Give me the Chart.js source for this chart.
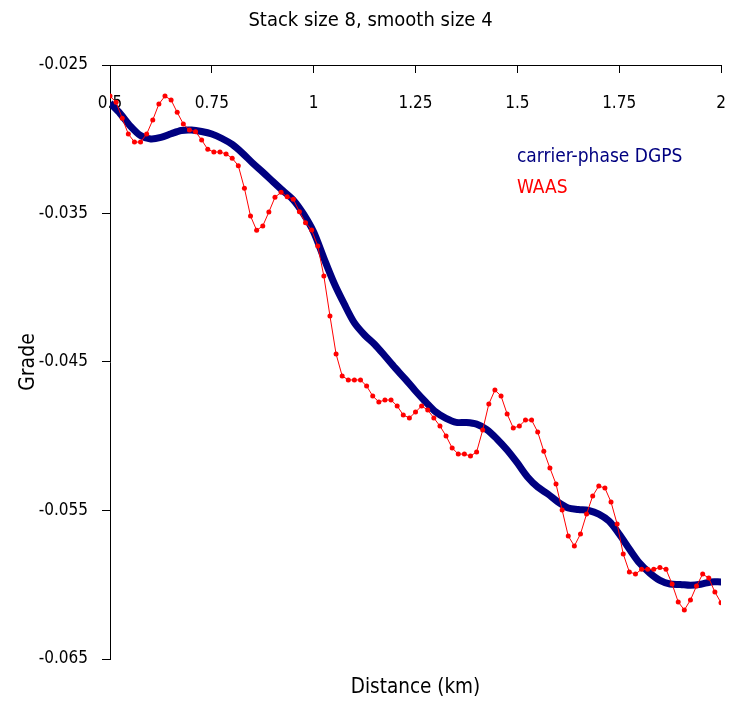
<!DOCTYPE html>
<html>
<head>
<meta charset="utf-8">
<script src="https://cdn.jsdelivr.net/npm/chart.js@4"></script>
<style>body{margin:0;background:#fff}</style>
</head>
<body>
<canvas id="myChart" width="730" height="706"></canvas>
<script>
const xTicks = [0.5, 0.75, 1, 1.25, 1.5, 1.75, 2];
const yTicks = [-0.065, -0.055, -0.045, -0.035, -0.025];

// carrier-phase DGPS, read every 0.025 km from 0.5 km
const dgpsStart = 0.5, dgpsStep = 0.025;
const dgpsGrade = [
    -0.02756, -0.02827, -0.02911, -0.02975, -0.02998, -0.02988, -0.02963, -0.02941, -0.02938, -0.02948,
    -0.02965, -0.02995, -0.03035, -0.03093, -0.03160, -0.03221, -0.03285, -0.03348, -0.03409, -0.03503,
    -0.03625, -0.03800, -0.03968, -0.04109, -0.04237, -0.04318, -0.04382, -0.04460, -0.04540, -0.04615,
    -0.04695, -0.04769, -0.04837, -0.04880, -0.04907, -0.04907, -0.04918, -0.04955, -0.05018, -0.05093,
    -0.05180, -0.05274, -0.05342, -0.05389, -0.05443, -0.05483, -0.05493, -0.05500, -0.05524, -0.05571,
    -0.05658, -0.05759, -0.05854, -0.05921, -0.05971, -0.05995, -0.05998, -0.06004, -0.05997, -0.05981,
    -0.05981
];

// WAAS, read every 0.015 km from 0.5 km
const waasStart = 0.5, waasStep = 0.015;
const waasGrade = [
    -0.02709, -0.02751, -0.02859, -0.02965, -0.03019, -0.03019, -0.02965, -0.02870, -0.02763, -0.02709,
    -0.02736, -0.02819, -0.02897, -0.02938, -0.02949, -0.03005, -0.03068, -0.03086, -0.03086, -0.03099,
    -0.03128, -0.03178, -0.03330, -0.03517, -0.03613, -0.03584, -0.03490, -0.03391, -0.03357, -0.03387,
    -0.03404, -0.03488, -0.03562, -0.03611, -0.03719, -0.03921, -0.04190, -0.04446, -0.04594, -0.04621,
    -0.04621, -0.04621, -0.04662, -0.04729, -0.04769, -0.04756, -0.04756, -0.04796, -0.04857, -0.04877,
    -0.04837, -0.04796, -0.04823, -0.04877, -0.04931, -0.04998, -0.05079, -0.05120, -0.05120, -0.05133,
    -0.05106, -0.04958, -0.04783, -0.04689, -0.04729, -0.04850, -0.04944, -0.04931, -0.04891, -0.04891,
    -0.04971, -0.05101, -0.05214, -0.05322, -0.05497, -0.05672, -0.05739, -0.05658, -0.05524, -0.05402,
    -0.05335, -0.05349, -0.05443, -0.05591, -0.05793, -0.05914, -0.05928, -0.05896, -0.05896, -0.05896,
    -0.05883, -0.05896, -0.05995, -0.06116, -0.06170, -0.06103, -0.06008, -0.05928, -0.05955, -0.06049,
    -0.06121
];

const fontFamily = "'Liberation Sans Narrow', 'Arial Narrow', 'DejaVu Sans Condensed', sans-serif";
Chart.defaults.font.family = fontFamily;
Chart.defaults.color = '#000';

const toPoints = (start, step, values) => values.map((v, i) => ({x: start + i * step, y: v}));

// legend text sits inside the plot, no symbols
const insideLegend = {
    id: 'insideLegend',
    afterDatasetsDraw(chart) {
        const {ctx, chartArea} = chart;
        ctx.save();
        ctx.font = '19px ' + fontFamily;
        ctx.textBaseline = 'middle';
        chart.data.datasets.forEach((ds, i) => {
            ctx.fillStyle = ds.borderColor;
            ctx.fillText(ds.label, chartArea.left + chartArea.width * 0.666, chartArea.top + chartArea.height * 0.155 + i * 31);
        });
        ctx.restore();
    }
};

new Chart(document.getElementById('myChart'), {
    type: 'line',
    data: {
        datasets: [
            {
                label: 'carrier-phase DGPS',
                data: toPoints(dgpsStart, dgpsStep, dgpsGrade),
                borderColor: '#000080',
                borderWidth: 7,
                pointRadius: 0,
                tension: 0.3,
                order: 1
            },
            {
                label: 'WAAS',
                data: toPoints(waasStart, waasStep, waasGrade),
                borderColor: '#FF0000',
                backgroundColor: '#FF0000',
                borderWidth: 1,
                pointRadius: 2.5,
                pointBorderWidth: 0,
                pointBackgroundColor: '#FF0000',
                tension: 0,
                order: 0
            }
        ]
    },
    options: {
        responsive: false,
        animation: false,
        layout: {padding: {left: 20, right: 9, top: 0, bottom: 0}},
        plugins: {
            legend: {display: false},
            tooltip: {enabled: false},
            title: {
                display: true,
                text: 'Stack size 8, smooth size 4',
                color: '#000',
                font: {size: 20, weight: 'normal'},
                padding: {top: 9, bottom: 24}
            }
        },
        scales: {
            x: {
                type: 'linear',
                position: 'top',
                min: 0.5,
                max: 2,
                afterBuildTicks: (scale) => { scale.ticks = xTicks.map(v => ({value: v})); },
                afterFit: (scale) => {
                    scale.height = 8;
                    scale.paddingLeft = 0;
                    scale.paddingRight = 0;
                },
                border: {display: true, color: '#000', width: 1},
                grid: {drawOnChartArea: false, tickLength: -8, color: '#000'},
                ticks: {mirror: true, padding: 28, font: {size: 17}, callback: (v) => String(v)}
            },
            x2: {
                type: 'linear',
                axis: 'x',
                position: 'bottom',
                afterFit: (scale) => { scale.height = 47; },
                border: {display: false},
                grid: {display: false},
                ticks: {display: false},
                title: {display: true, text: 'Distance (km)', font: {size: 20.5}, padding: {top: 0, bottom: 6}}
            },
            y: {
                min: -0.065,
                max: -0.025,
                afterBuildTicks: (scale) => { scale.ticks = yTicks.map(v => ({value: v})); },
                afterFit: (scale) => { scale.width = 90; },
                border: {display: true, color: '#000', width: 1},
                grid: {drawOnChartArea: false, tickLength: 8, color: '#000'},
                ticks: {padding: 14, font: {size: 17}, callback: (v) => v.toFixed(3)},
                title: {display: true, text: 'Grade', font: {size: 21}, padding: {top: -3.6, bottom: 0}}
            }
        }
    },
    plugins: [insideLegend]
});
</script>
</body>
</html>
